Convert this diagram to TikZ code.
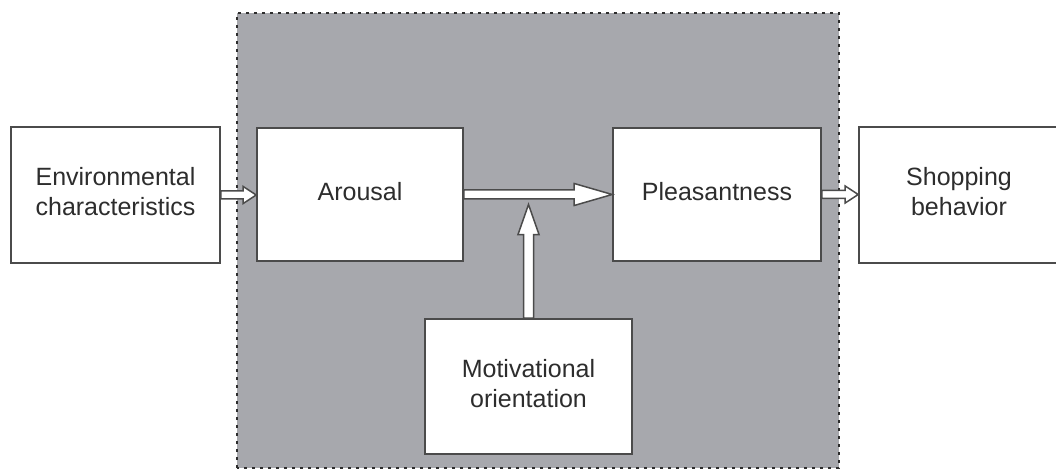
\documentclass[tikz,border=0pt]{standalone}
\usepackage{fontspec}
\setmainfont{Liberation Sans}
\usetikzlibrary{calc}
\definecolor{panel}{RGB}{167,168,173}
\definecolor{edge}{RGB}{75,75,75}
\definecolor{txt}{RGB}{45,45,45}
\begin{document}
\begin{tikzpicture}[x=1pt,y=-1pt,
  box/.style={draw=edge,line width=1.6pt,fill=white,text=txt,align=center,
    font=\fontsize{25}{30}\selectfont,inner sep=0pt,text depth=7pt},
  hollow/.style={draw=edge,line width=1.5pt,fill=white,line join=miter}]
\useasboundingbox (0,0) rectangle (1056,470);
\clip (0,0) rectangle (1056,470);
\fill[white] (0,0) rectangle (1056,470);
% shaded panel
\fill[panel] (237,13) rectangle (839,468);
\draw[txt,line width=2.6pt,dash pattern=on 2.6pt off 5.4pt] (237,468) -- (237,13) -- (839,13) -- (839,468) -- (237,468);
% nodes
\node[box,minimum width=209pt,minimum height=136pt] (env) at (115.5,195) {Environmental\\characteristics};
\node[box,minimum width=206pt,minimum height=133pt] (aro) at (360,194.5) {Arousal};
\node[box,minimum width=208pt,minimum height=133pt] (ple) at (717,194.5) {Pleasantness};
\node[box,minimum width=200pt,minimum height=136pt] (sho) at (959,195) {Shopping\\behavior};
\node[box,minimum width=207pt,minimum height=135pt] (mot) at (528.5,386.5) {Motivational\\orientation};
% connectors
\coordinate (tip) at ($(mot.north |- aro.east)+(0,10)$);
% env -> arousal
\draw[hollow] ($(env.east)+(0,-4)$) -- ($(aro.west |- env.east)+(-13,-4)$) -- ($(aro.west |- env.east)+(-13,-8.5)$)
  -- (aro.west |- env.east) -- ($(aro.west |- env.east)+(-13,8.5)$) -- ($(aro.west |- env.east)+(-13,4)$)
  -- ($(env.east)+(0,4)$) -- cycle;
% arousal -> pleasantness
\draw[hollow] ($(aro.east)+(0,-4.5)$) -- ($(ple.west)+(-38,-4.5)$) -- ($(ple.west)+(-38,-11)$)
  -- (ple.west) -- ($(ple.west)+(-38,11)$) -- ($(ple.west)+(-38,4.5)$)
  -- ($(aro.east)+(0,4.5)$) -- cycle;
% pleasantness -> shopping
\draw[hollow] ($(ple.east)+(0,-4)$) -- ($(sho.west |- ple.east)+(-13,-4)$) -- ($(sho.west |- ple.east)+(-13,-8.5)$)
  -- (sho.west |- ple.east) -- ($(sho.west |- ple.east)+(-13,8.5)$) -- ($(sho.west |- ple.east)+(-13,4)$)
  -- ($(ple.east)+(0,4)$) -- cycle;
% motivational -> main arrow
\draw[hollow] ($(mot.north)+(-5,0)$) -- ($(tip)+(-5,30)$) -- ($(tip)+(-10.5,30)$) -- (tip)
  -- ($(tip)+(10.5,30)$) -- ($(tip)+(5,30)$) -- ($(mot.north)+(5,0)$) -- cycle;
\end{tikzpicture}
\end{document}
